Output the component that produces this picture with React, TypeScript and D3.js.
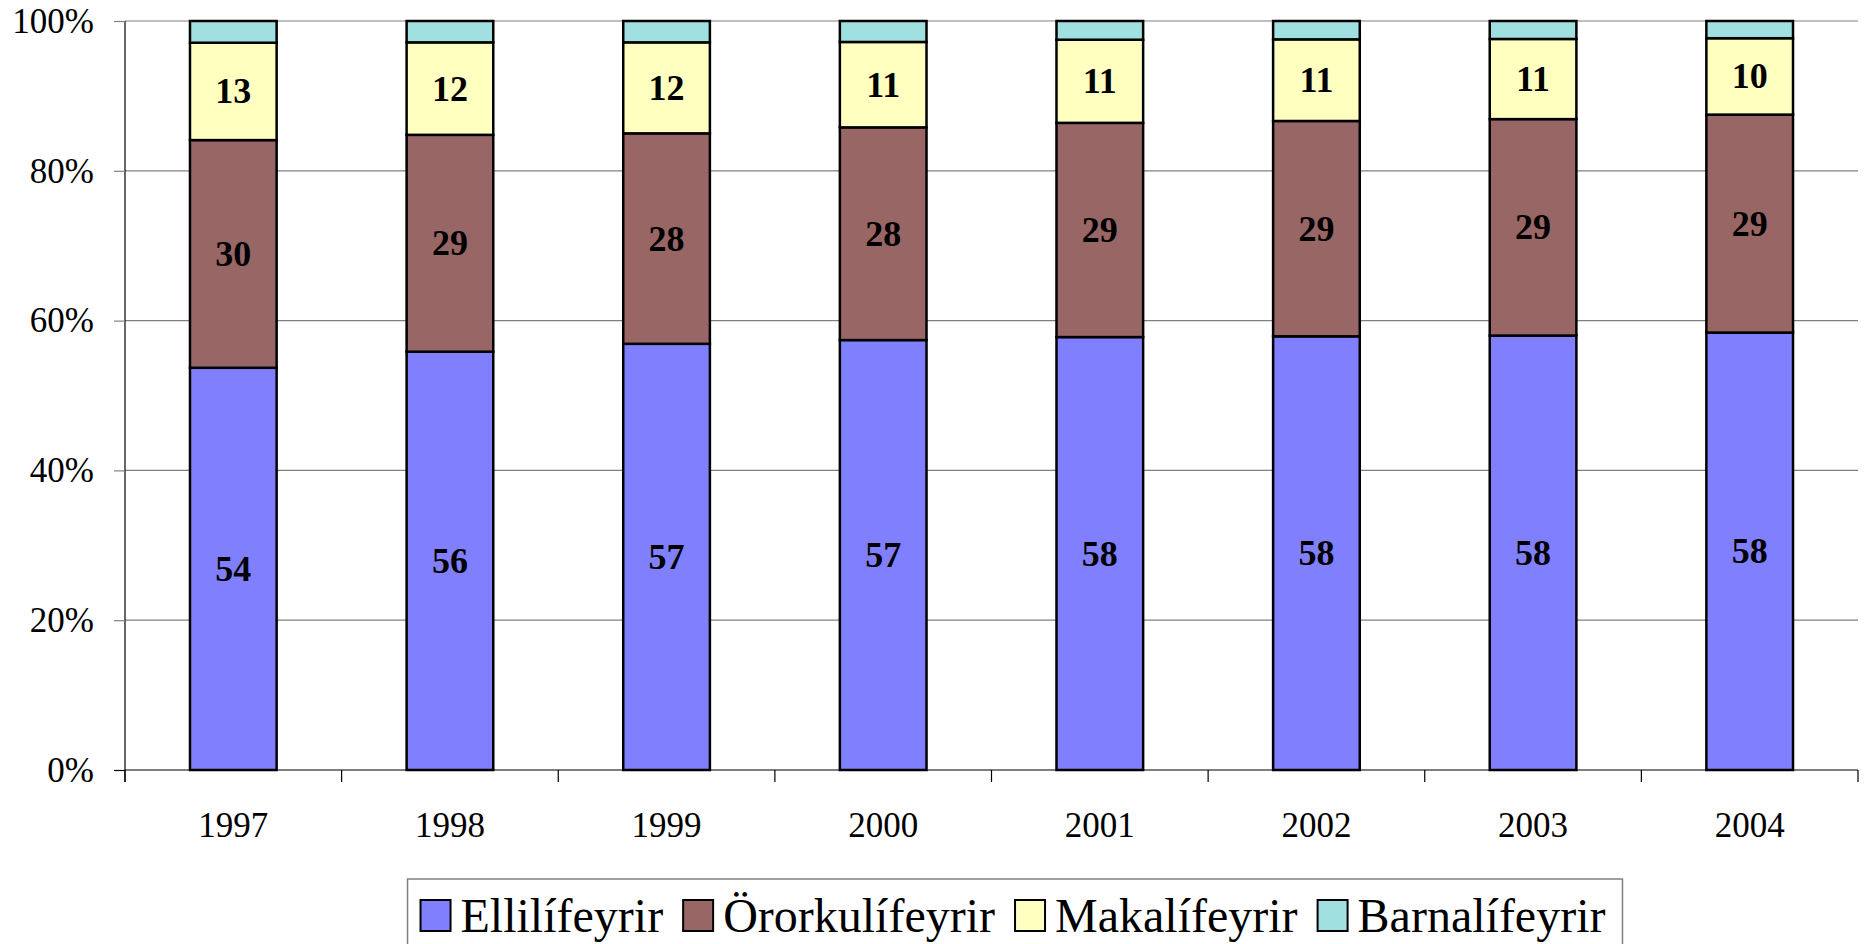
import React, { useEffect, useRef } from 'react';
import * as d3 from 'd3';

const years = ['1997', '1998', '1999', '2000', '2001', '2002', '2003', '2004'];
const seriesNames = ['Ellilífeyrir', 'Örorkulífeyrir', 'Makalífeyrir', 'Barnalífeyrir'];
const seriesColors = ['#8080ff', '#996666', '#ffffc0', '#a0e0e0'];

// percentage shares
const ellilifeyrir = [53.7, 55.85, 56.9, 57.4, 57.8, 57.9, 58.0, 58.4];
const ororkulifeyrir = [30.4, 28.95, 28.1, 28.4, 28.6, 28.75, 28.9, 29.1];
const makalifeyrir = [13.0, 12.35, 12.15, 11.4, 11.1, 10.9, 10.7, 10.2];
const barnalifeyrir = [2.9, 2.85, 2.85, 2.8, 2.5, 2.45, 2.4, 2.3];

const yTicks = [0, 20, 40, 60, 80, 100];

const FONT = '"Liberation Serif", "Times New Roman", serif';

function drawChart(el: SVGSVGElement) {
  const svg = d3.select(el);
  svg.selectAll('*').remove();

  const margin = { top: 21, left: 125, right: 10 };
  const plotBottom = 770;
  const plotRight = 1858;

  const rows = years.map((yr, i) => ({
    year: yr,
    [seriesNames[0]]: ellilifeyrir[i],
    [seriesNames[1]]: ororkulifeyrir[i],
    [seriesNames[2]]: makalifeyrir[i],
    [seriesNames[3]]: barnalifeyrir[i],
  }));

  const x = d3
    .scaleBand()
    .domain(years)
    .range([margin.left, plotRight])
    .paddingInner(0.6)
    .paddingOuter(0.3);

  const y = d3.scaleLinear().domain([0, 100]).range([plotBottom, margin.top]);

  const stack = d3.stack<any>().keys(seriesNames);
  const stacked = stack(rows);

  // gridlines
  svg
    .append('g')
    .selectAll('line')
    .data(yTicks.filter((t) => t > 0))
    .join('line')
    .attr('x1', margin.left)
    .attr('x2', plotRight)
    .attr('y1', (d) => y(d))
    .attr('y2', (d) => y(d))
    .attr('stroke', '#808080')
    .attr('stroke-width', 1.2);

  // y axis
  const yAxis = svg
    .append('g')
    .attr('transform', `translate(${margin.left},0)`)
    .call(
      d3
        .axisLeft(y)
        .tickValues(yTicks)
        .tickSize(11)
        .tickPadding(20)
        .tickFormat((d) => `${d}%`),
    );
  yAxis.select('.domain').attr('stroke', '#000').attr('stroke-width', 1.2)
    .attr('d', `M-0,${y(100)}V${plotBottom + 12}`);
  yAxis.selectAll('.tick line').attr('stroke', (d: any) => (d === 0 ? '#000' : '#808080')).attr('stroke-width', 1.2);
  yAxis
    .selectAll('.tick text')
    .attr('font-family', FONT)
    .attr('font-size', 35)
    .attr('fill', '#000');

  // x axis
  const step = x.step();
  const boundaries = d3.range(years.length + 1).map((i) => margin.left + i * step);
  svg
    .append('line')
    .attr('x1', margin.left)
    .attr('x2', plotRight)
    .attr('y1', plotBottom)
    .attr('y2', plotBottom)
    .attr('stroke', '#000')
    .attr('stroke-width', 1.2);
  svg
    .append('g')
    .selectAll('line')
    .data(boundaries)
    .join('line')
    .attr('x1', (d) => d)
    .attr('x2', (d) => d)
    .attr('y1', plotBottom)
    .attr('y2', plotBottom + 12)
    .attr('stroke', '#000')
    .attr('stroke-width', 1.2);
  svg
    .append('g')
    .selectAll('text')
    .data(years)
    .join('text')
    .attr('x', (d) => (x(d) as number) + x.bandwidth() / 2)
    .attr('y', 837)
    .attr('text-anchor', 'middle')
    .attr('font-family', FONT)
    .attr('font-size', 35)
    .text((d) => d);

  // bars
  const layers = svg
    .append('g')
    .selectAll('g')
    .data(stacked)
    .join('g')
    .attr('fill', (_d, i) => seriesColors[i]);

  layers
    .selectAll('rect')
    .data((d) => d.map((v) => ({ v, key: d.key })))
    .join('rect')
    .attr('x', (d) => x(d.v.data.year) as number)
    .attr('width', x.bandwidth())
    .attr('y', (d) => y(d.v[1]))
    .attr('height', (d) => y(d.v[0]) - y(d.v[1]))
    .attr('stroke', '#000')
    .attr('stroke-width', 2.5);

  // labels for the first three series
  stacked.slice(0, 3).forEach((layer) => {
    svg
      .append('g')
      .selectAll('text')
      .data(layer)
      .join('text')
      .attr('x', (d) => (x(d.data.year as string) as number) + x.bandwidth() / 2)
      .attr('y', (d) => y((d[0] + d[1]) / 2) + 12)
      .attr('text-anchor', 'middle')
      .attr('font-family', FONT)
      .attr('font-weight', 'bold')
      .attr('font-size', 36)
      .text((d) => Math.round(d[1] - d[0]));
  });

  // legend
  const legend = svg.append('g');
  const box = legend
    .append('rect')
    .attr('y', 879)
    .attr('height', 80)
    .attr('fill', '#fff')
    .attr('stroke', '#808080')
    .attr('stroke-width', 1.5);
  const items = legend.append('g');
  let cx = 0;
  seriesNames.forEach((name, i) => {
    const g = items.append('g').attr('transform', `translate(${cx},0)`);
    g.append('rect')
      .attr('x', 0)
      .attr('y', 900)
      .attr('width', 30)
      .attr('height', 31)
      .attr('fill', seriesColors[i])
      .attr('stroke', '#000')
      .attr('stroke-width', 2);
    const t = g
      .append('text')
      .attr('x', 40)
      .attr('y', 932)
      .attr('font-family', FONT)
      .attr('font-size', 48)
      .text(name);
    const w = (t.node() as SVGTextElement).getComputedTextLength();
    cx += 40 + w + 20;
  });
  const total = cx - 20;
  const left = 1013 - total / 2;
  items.attr('transform', `translate(${left},0)`);
  box.attr('x', left - 13).attr('width', total + 30);
}

export default function App() {
  const ref = useRef<SVGSVGElement>(null);

  useEffect(() => {
    if (ref.current) drawChart(ref.current);
  }, []);

  return (
    <svg
      ref={ref}
      width={1868}
      height={944}
      style={{ position: 'absolute', left: 0, top: 0, background: '#fff' }}
    />
  );
}
